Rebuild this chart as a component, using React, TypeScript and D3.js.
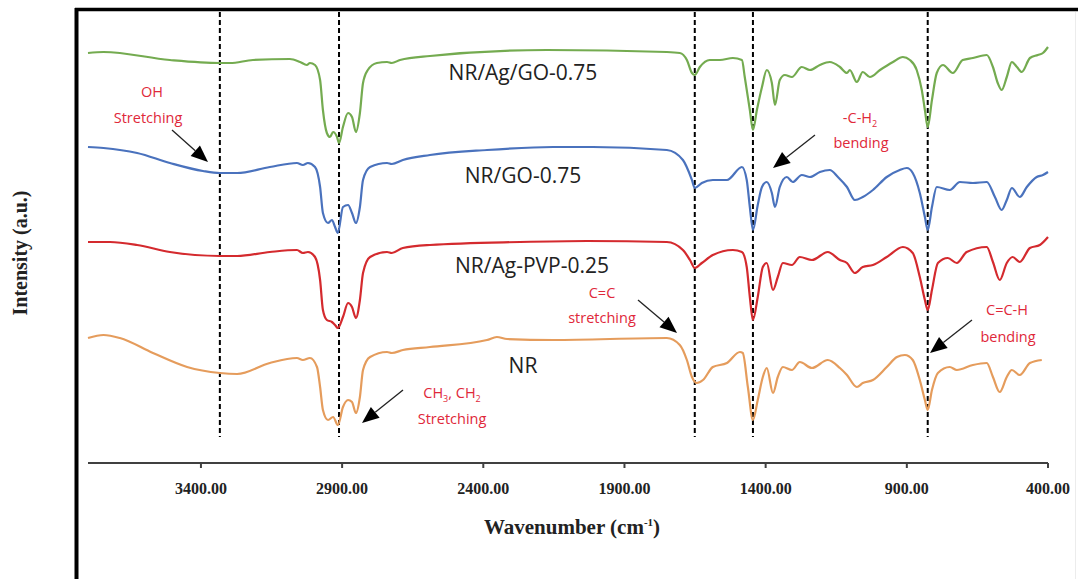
import React from "react";
import * as d3 from "d3";

// ---------- data ----------
const wavenumberTicks = [3400, 2900, 2400, 1900, 1400, 900, 400];
const bandLines = [3333, 2911, 1651, 1445, 826];

// [wavenumber (cm-1), intensity (a.u., offset)]
const nrAgGo: [number, number][] = [
  [3800, 410], [3745, 411], [3510, 403], [3333, 400], [3297, 400], [3216, 403], [3085, 404], [3049, 401],
  [3025, 398], [3014, 400], [2996, 398], [2978, 383], [2968, 353], [2954, 330], [2943, 326], [2932, 331],
  [2918, 326], [2911, 320], [2897, 336], [2879, 350], [2865, 346], [2851, 331], [2837, 350], [2826, 380],
  [2809, 393], [2777, 400], [2741, 401], [2724, 400], [2695, 403], [2589, 407], [2175, 413], [1750, 411],
  [1704, 410], [1679, 403], [1661, 390], [1651, 388], [1633, 396], [1598, 403], [1562, 403], [1516, 405],
  [1484, 403], [1474, 386], [1456, 353], [1445, 333], [1431, 353], [1413, 376], [1396, 393], [1378, 380],
  [1367, 358], [1350, 383], [1332, 388], [1307, 386], [1272, 396], [1243, 393], [1208, 398], [1173, 401],
  [1137, 396], [1112, 390], [1102, 393], [1077, 381], [1056, 391], [1031, 386], [995, 393], [949, 401],
  [914, 406], [889, 403], [865, 393], [847, 373], [836, 353], [826, 336], [811, 363], [794, 390],
  [772, 398], [737, 390], [702, 403], [666, 405], [617, 408], [595, 396], [578, 380], [564, 373],
  [546, 386], [528, 401], [510, 396], [493, 391], [464, 405], [436, 408], [418, 410], [400, 416],
];

const nrGo: [number, number][] = [
  [3800, 316], [3745, 315], [3626, 310], [3510, 300], [3393, 292], [3333, 290], [3272, 290], [3156, 296],
  [3060, 300], [3039, 298], [3021, 300], [2996, 296], [2978, 276], [2968, 250], [2950, 240], [2936, 243],
  [2925, 236], [2915, 230], [2897, 256], [2879, 258], [2865, 250], [2851, 240], [2837, 256], [2826, 283],
  [2801, 296], [2741, 300], [2724, 299], [2685, 303], [2589, 308], [2387, 313], [2153, 316], [2012, 316],
  [1750, 313], [1693, 303], [1661, 283], [1651, 275], [1626, 280], [1587, 283], [1537, 283], [1484, 296],
  [1467, 283], [1456, 256], [1445, 233], [1428, 258], [1413, 276], [1396, 281], [1378, 270], [1367, 256],
  [1350, 276], [1325, 286], [1304, 281], [1272, 288], [1243, 286], [1208, 291], [1173, 293], [1144, 286],
  [1112, 276], [1084, 263], [1056, 266], [1020, 273], [971, 286], [925, 293], [900, 295], [879, 290],
  [854, 270], [836, 246], [826, 233], [811, 256], [794, 276], [748, 273], [712, 281], [666, 280],
  [617, 281], [588, 266], [564, 253], [546, 263], [528, 275], [500, 266], [475, 276], [440, 286],
  [418, 288], [400, 291],
];

const nrAgPvp: [number, number][] = [
  [3800, 221], [3722, 221], [3626, 218], [3510, 211], [3333, 207], [3272, 207], [3156, 211], [3060, 213],
  [3039, 210], [3021, 211], [2996, 206], [2978, 183], [2968, 153], [2954, 143], [2936, 141], [2925, 138],
  [2915, 135], [2897, 146], [2879, 160], [2865, 156], [2851, 145], [2837, 163], [2826, 190], [2801, 206],
  [2741, 211], [2724, 210], [2685, 215], [2589, 218], [2270, 221], [2033, 222], [1750, 221], [1693, 213],
  [1668, 203], [1651, 195], [1626, 200], [1587, 208], [1516, 213], [1484, 211], [1467, 196], [1456, 166],
  [1445, 143], [1428, 166], [1410, 196], [1396, 200], [1374, 173], [1357, 186], [1339, 200], [1307, 198],
  [1279, 206], [1236, 203], [1180, 211], [1137, 203], [1112, 200], [1084, 190], [1056, 196], [1020, 198],
  [971, 206], [914, 216], [879, 210], [854, 186], [836, 163], [826, 153], [811, 173], [790, 200],
  [755, 205], [723, 200], [688, 211], [617, 216], [595, 201], [571, 183], [546, 200], [525, 206],
  [500, 201], [464, 215], [429, 218], [400, 226],
];

const nr: [number, number][] = [
  [3800, 125], [3745, 128], [3687, 125], [3570, 110], [3449, 96], [3333, 90], [3272, 89], [3156, 100],
  [3060, 105], [3039, 103], [3014, 105], [2989, 96], [2978, 76], [2968, 53], [2950, 43], [2932, 46],
  [2915, 38], [2897, 56], [2879, 63], [2865, 61], [2851, 50], [2837, 66], [2826, 93], [2801, 106],
  [2741, 111], [2724, 110], [2685, 113], [2589, 116], [2387, 123], [2352, 126], [2316, 124], [2153, 123],
  [1750, 125], [1704, 118], [1679, 103], [1661, 86], [1644, 80], [1622, 83], [1587, 96], [1537, 100],
  [1491, 111], [1481, 110], [1463, 76], [1445, 43], [1428, 63], [1410, 86], [1396, 95], [1374, 70],
  [1357, 86], [1339, 96], [1307, 93], [1279, 101], [1236, 95], [1180, 103], [1137, 95], [1112, 88],
  [1077, 76], [1056, 80], [1020, 83], [971, 96], [935, 106], [907, 108], [879, 103], [854, 83],
  [836, 63], [826, 53], [811, 73], [790, 90], [748, 96], [723, 93], [666, 98], [617, 100],
  [595, 86], [571, 71], [546, 86], [528, 93], [500, 88], [464, 100], [422, 103],
];

const seriesNames = ["NR/Ag/GO-0.75", "NR/GO-0.75", "NR/Ag-PVP-0.25", "NR"];
const seriesData = [nrAgGo, nrGo, nrAgPvp, nr];
const seriesColors = ["#74ab50", "#4a72bd", "#d42a2e", "#e59c5c"];

// ---------- layout ----------
const W = 1078;
const H = 579;
const x = d3.scaleLinear().domain([3800, 400]).range([88, 1048]);
const y = d3.scaleLinear().domain([0, 455]).range([463, 8]);

const line = d3
  .line<[number, number]>()
  .x((d) => x(d[0]))
  .y((d) => y(d[1]))
  .curve(d3.curveMonotoneX);

const RED = "#e0283a";
const annFont = "'Open Sans', 'Noto Sans', sans-serif";

function Arrow({ x1, y1, x2, y2 }: { x1: number; y1: number; x2: number; y2: number }) {
  const ang = Math.atan2(y2 - y1, x2 - x1);
  const len = 17;
  const half = 7;
  const bx = x2 - len * Math.cos(ang);
  const by = y2 - len * Math.sin(ang);
  const px = -Math.sin(ang) * half;
  const py = Math.cos(ang) * half;
  return (
    <g>
      <line x1={x1} y1={y1} x2={bx} y2={by} stroke="#222" strokeWidth={1.3} />
      <polygon points={`${x2},${y2} ${bx + px},${by + py} ${bx - px},${by - py}`} fill="#000" />
    </g>
  );
}

export default function App() {
  const labelPos = [
    { cx: 523, cy: 80 },
    { cx: 523, cy: 183 },
    { cx: 532, cy: 273 },
    { cx: 523, cy: 373 },
  ];
  return (
    <svg
      width={W}
      height={H}
      style={{ position: "absolute", left: 0, top: 0, background: "#fff" }}
    >
      {/* frame */}
      <line x1={76.5} y1={8} x2={76.5} y2={H} stroke="#000" strokeWidth={4} />
      <line x1={75} y1={9.5} x2={W} y2={9.5} stroke="#000" strokeWidth={3.5} />
      <line x1={1075.5} y1={12} x2={1075.5} y2={H} stroke="#ececec" strokeWidth={1} />

      {/* band dashed lines */}
      {bandLines.map((b) => (
        <line
          key={b}
          x1={x(b)}
          x2={x(b)}
          y1={12}
          y2={437}
          stroke="#000"
          strokeWidth={2}
          strokeDasharray="5,3"
        />
      ))}

      {/* spectra */}
      {seriesData.map((s, i) => (
        <path key={i} d={line(s) || ""} fill="none" stroke={seriesColors[i]} strokeWidth={2.2} />
      ))}

      {/* series labels */}
      {seriesNames.map((n, i) => (
        <text
          key={n}
          x={labelPos[i].cx}
          y={labelPos[i].cy}
          textAnchor="middle"
          fontFamily={annFont}
          fontSize={21}
          fill="#222"
        >
          {n}
        </text>
      ))}

      {/* x axis */}
      <line x1={x(3800)} x2={x(400)} y1={463} y2={463} stroke="#404040" strokeWidth={2.2} />
      {wavenumberTicks.map((t) => (
        <g key={t}>
          <line x1={x(t)} x2={x(t)} y1={463} y2={468} stroke="#404040" strokeWidth={2} />
          <text
            x={x(t)}
            y={494}
            textAnchor="middle"
            fontFamily="'Liberation Serif', 'Times New Roman', serif"
            fontWeight="bold"
            fontSize={16}
            fill="#222"
          >
            {t.toFixed(2)}
          </text>
        </g>
      ))}
      <text
        x={572}
        y={534}
        textAnchor="middle"
        fontFamily="'Liberation Serif', 'Times New Roman', serif"
        fontWeight="bold"
        fontSize={21}
        fill="#222"
      >
        Wavenumber (cm
        <tspan fontSize={11} dy={-8}>-1</tspan>
        <tspan dy={8}>)</tspan>
      </text>
      <text
        transform="translate(27,253) rotate(-90)"
        textAnchor="middle"
        fontFamily="'Liberation Serif', 'Times New Roman', serif"
        fontWeight="bold"
        fontSize={20}
        fill="#222"
      >
        Intensity (a.u.)
      </text>

      {/* annotations */}
      <g fontFamily={annFont} fontSize={14.5} fill={RED} textAnchor="middle">
        <text x={152} y={97}>OH</text>
        <text x={148} y={123}>Stretching</text>

        <text x={860} y={123}>
          -C-H<tspan fontSize={9} dy={4}>2</tspan>
        </text>
        <text x={861} y={148}>bending</text>

        <text x={602} y={298}>C=C</text>
        <text x={602} y={323}>stretching</text>

        <text x={1007} y={315}>C=C-H</text>
        <text x={1008} y={342}>bending</text>

        <text x={452} y={398}>
          CH<tspan fontSize={9} dy={4}>3</tspan>
          <tspan dy={-4}>, CH</tspan>
          <tspan fontSize={9} dy={4}>2</tspan>
        </text>
        <text x={452} y={424}>Stretching</text>
      </g>
      <Arrow x1={172} y1={130} x2={208} y2={162} />
      <Arrow x1={815} y1={135} x2={773} y2={168} />
      <Arrow x1={638} y1={300} x2={677} y2={333} />
      <Arrow x1={972} y1={320} x2={930} y2={353} />
      <Arrow x1={403} y1={390} x2={362} y2={423} />
    </svg>
  );
}
